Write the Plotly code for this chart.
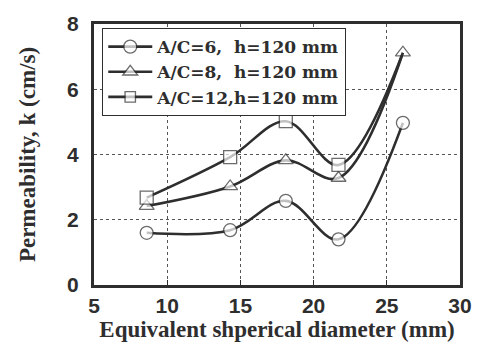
import plotly.graph_objects as go

diam = [8.6, 14.3, 18.1, 21.7, 26.1]
k_ac6 = [1.6, 1.68, 2.58, 1.4, 4.97]
k_ac8 = [2.42, 3.02, 3.82, 3.28, 7.12]
k_ac12 = [2.68, 3.92, 5.02, 3.68, 7.12]
names = ["A/C=6,\u00a0\u00a0h=120 mm", "A/C=8,\u00a0\u00a0h=120 mm", "A/C=12,h=120 mm"]
symbols = ["circle", "triangle-up", "square"]

ink = "#2e2e2e"
fig = go.Figure()
series = [k_ac6, k_ac8, k_ac12]
for i, (ys, nm, sym) in enumerate(zip(series, names, symbols)):
    sizes = [13] * len(ys)
    if i == 2:
        sizes[-1] = 0
    fig.add_trace(go.Scatter(
        x=diam, y=ys, name="<b>" + nm + "</b>", mode="lines+markers",
        line=dict(shape="spline", smoothing=1.0, color=ink, width=2.6),
        marker=dict(symbol=sym, size=sizes, color="white",
                    line=dict(color=ink, width=1.3)),
    ))

fig.update_layout(
    width=484, height=345,
    margin=dict(l=94, r=14, t=24, b=60),
    paper_bgcolor="white", plot_bgcolor="white",
    showlegend=True,
    legend=dict(x=0.022, y=0.985, xanchor="left", yanchor="top",
                bgcolor="white", bordercolor=ink, borderwidth=1.2,
                font=dict(family="DejaVu Serif", size=17, color=ink),
                tracegroupgap=0, itemwidth=44),
    font=dict(family="Liberation Sans", color=ink),
)
fig.update_xaxes(
    range=[5, 30], tickvals=[5, 10, 15, 20, 25, 30],
    showline=True, linewidth=3, linecolor=ink, mirror=True,
    showgrid=True, gridcolor="#555", griddash="dot", gridwidth=1,
    ticks="inside", ticklen=5, tickcolor=ink,
    tickfont=dict(family="Liberation Sans", size=21, color=ink, weight="bold"),
    title=dict(text="<b>Equivalent shperical diameter (mm)</b>", standoff=0,
               font=dict(family="Liberation Serif", size=23, color=ink)),
    zeroline=False,
)
fig.update_yaxes(
    range=[0, 8], tickvals=[0, 2, 4, 6, 8],
    showline=True, linewidth=3, linecolor=ink, mirror=True,
    showgrid=True, gridcolor="#555", griddash="dot", gridwidth=1,
    ticks="", ticklabelstandoff=8,
    tickfont=dict(family="Liberation Sans", size=21, color=ink, weight="bold"),
    title=dict(text="<b>Permeability, k (cm/s)</b>", standoff=26,
               font=dict(family="Liberation Serif", size=23, color=ink)),
    zeroline=False,
)
fig.write_html("out.html")
